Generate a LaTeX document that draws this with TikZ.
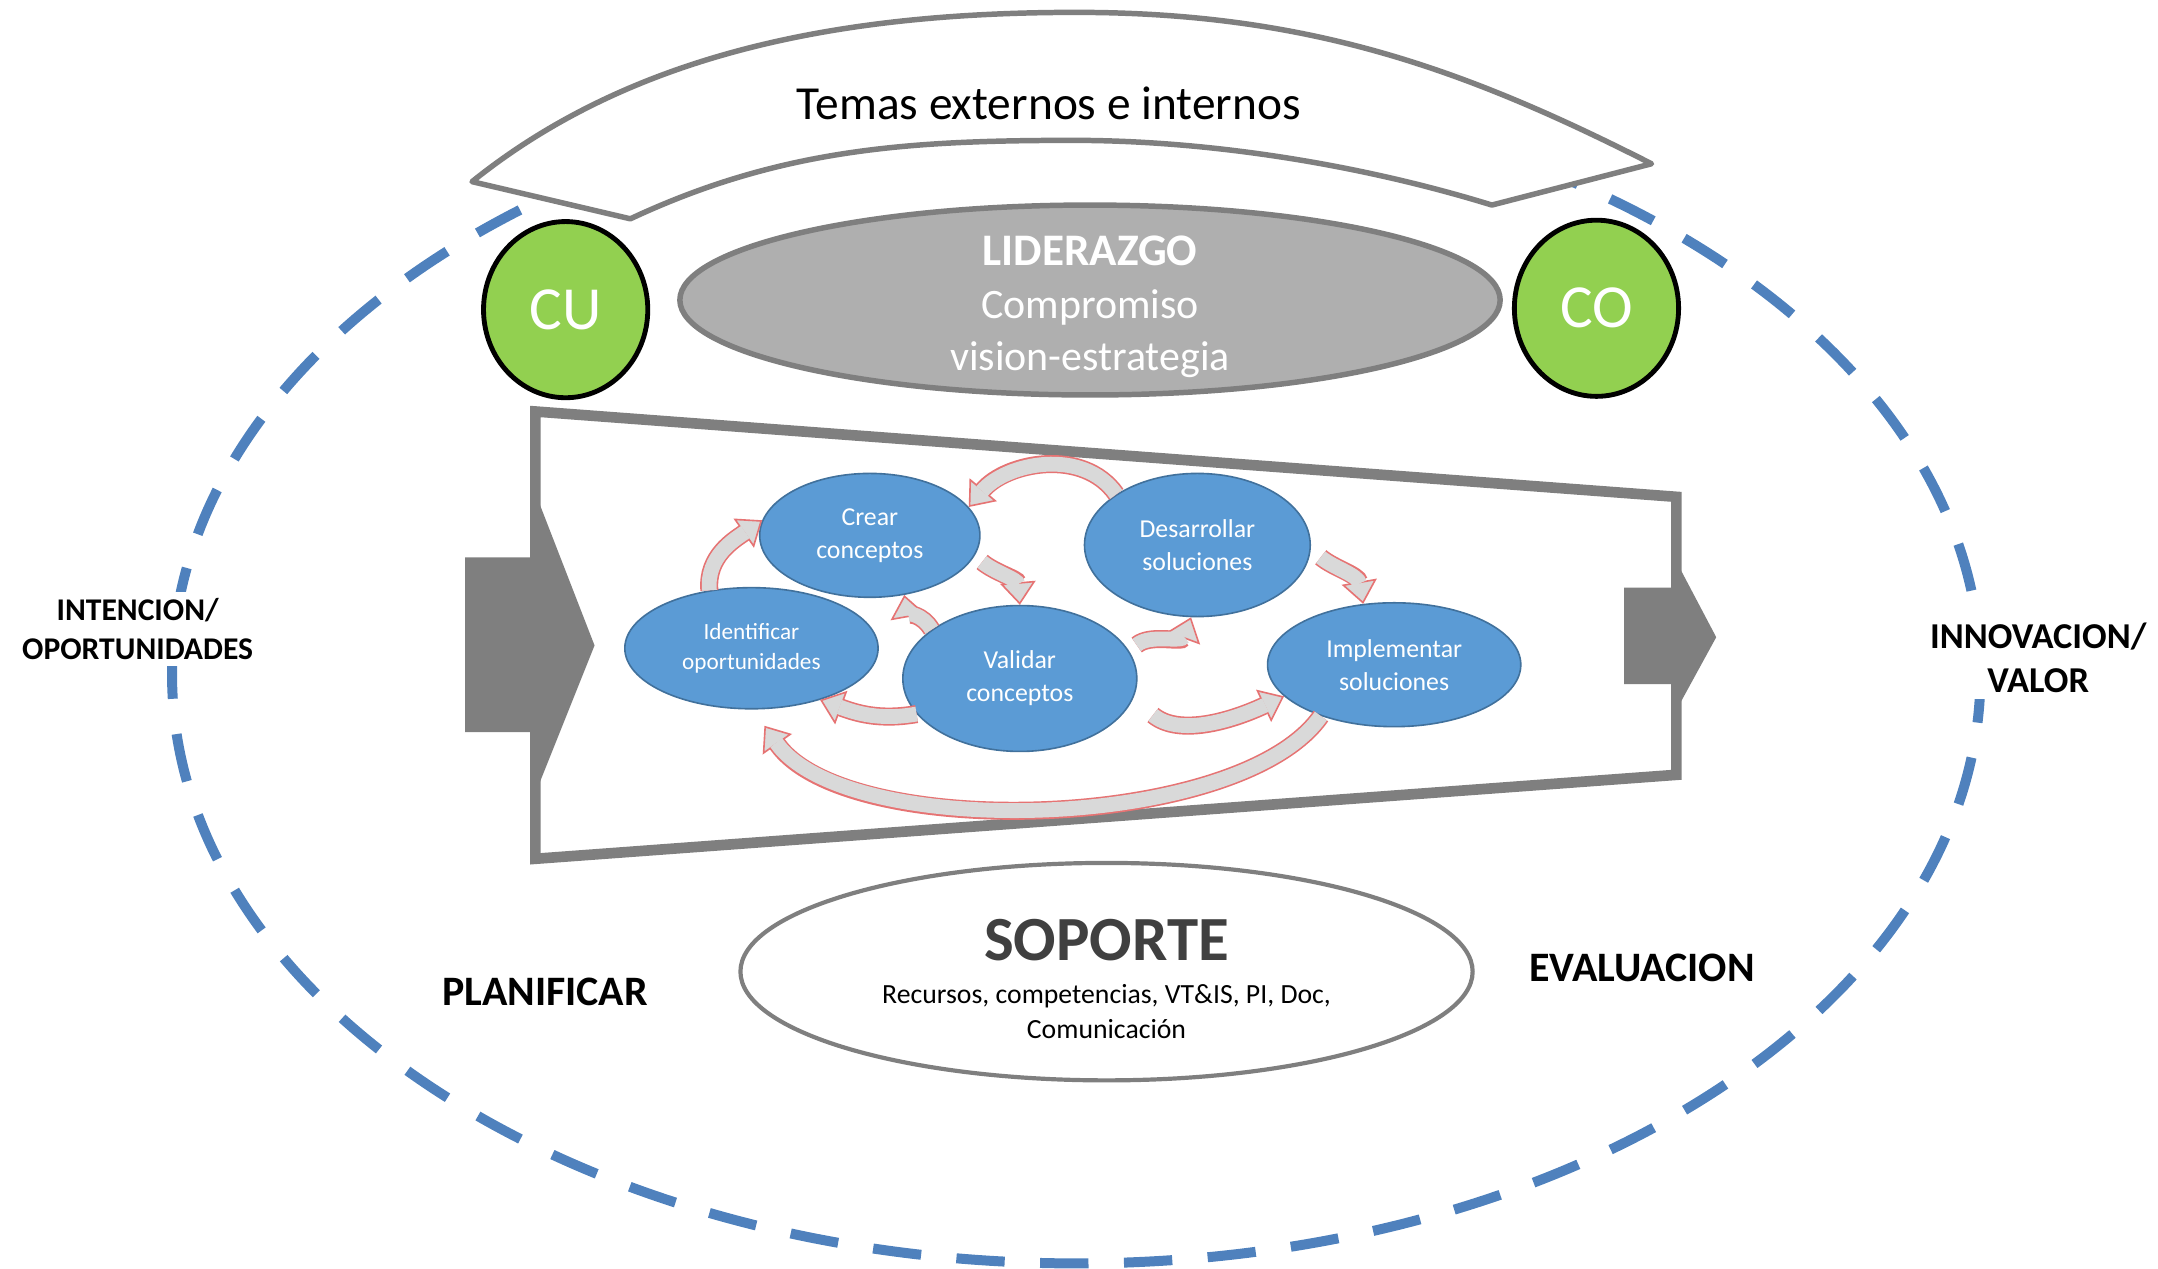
\documentclass[tikz,border=0pt]{standalone}
\usepackage{fontspec}
\setmainfont{Carlito}
\usetikzlibrary{shapes.geometric, arrows.meta, positioning, calc}
\definecolor{ringblue}{RGB}{79, 129, 189}
\definecolor{framegray}{RGB}{127, 127, 127}
\definecolor{leadgray}{RGB}{175, 175, 175}
\definecolor{cornergreen}{RGB}{146, 208, 80}
\definecolor{stageblue}{RGB}{91, 155, 213}
\definecolor{stageedge}{RGB}{65, 113, 156}
\definecolor{loopfill}{RGB}{217, 217, 217}
\definecolor{loopline}{RGB}{230, 115, 115}
\definecolor{soportetext}{RGB}{64, 64, 64}

% block arrow: outline first, then the light body on top
\newcommand{\cyclearrow}[2][]{%
    \draw[loopback, #1] #2;
    \draw[loopfront, #1] #2;
}

\begin{document}
\begin{tikzpicture}[
    x=0.015cm, y=-0.015cm,
    ring/.style={draw=ringblue, line width=3.1pt, dash pattern=on 15pt off 11pt},
    banner/.style={draw=framegray, line width=1.7pt, fill=white, line join=round},
    leader/.style={ellipse, draw=framegray, line width=1.7pt, fill=leadgray, minimum width=8.94cm, minimum height=2.07cm, inner sep=0pt},
    corner/.style={ellipse, draw=black, line width=1.5pt, fill=cornergreen, text=white, font=\fontsize{19}{22}\selectfont, minimum width=1.79cm, minimum height=1.92cm, inner sep=0pt},
    funnel/.style={draw=framegray, line width=3.3pt, fill=white, line join=miter},
    pointer/.style={fill=framegray},
    stage/.style={ellipse, draw=stageedge, line width=0.5pt, fill=stageblue, text=white, align=center, inner sep=0pt, font=\fontsize{8}{10.2}\selectfont},
    loopback/.style={draw=loopline, line width=5.6pt, -{Triangle[length=7pt, width=11pt, fill=loopfill, color=loopline, line width=0.5pt]}},
    loopfront/.style={draw=loopfill, line width=4.6pt, shorten >=6.4pt},
    support/.style={ellipse, draw=framegray, line width=1.3pt, fill=white, minimum width=7.98cm, minimum height=2.37cm, inner sep=0pt},
    phase/.style={font=\bfseries\fontsize{13}{15.6}\selectfont, align=center}
]
    \useasboundingbox (0,0) rectangle (1568,922);

    % Outer ring
    \draw[ring] (782,490) ellipse [x radius=657, y radius=428];

    % Banner
    \draw[banner] (343,132) .. controls (460,38) and (612,9) .. (782,9)
        .. controls (952,9) and (1066,51) .. (1200,119)
        -- (1084,149) .. controls (990,120) and (880,102) .. (780,102)
        .. controls (660,102) and (567,108) .. (458,159) -- cycle;
    \node[font=\fontsize{14.7}{17}\selectfont] (temas) at (762,75) {Temas externos e internos};

    % CU / CO
    \node[corner] (cu) at (411,225) {CU};
    \node[corner] (co) at (1160,224) {CO};

    % Leadership
    \node[leader] (lead) at (792,218) {};
    \node[text=white, align=center, font=\fontsize{13}{16.3}\selectfont] (leadtxt) at (792,223)
        {{\bfseries\fontsize{14}{16.3}\selectfont LIDERAZGO}\\Compromiso\\vision-estrategia};

    % Funnel
    \draw[funnel] (389,299) -- (1218,361) -- (1218,563) -- (389,624) -- cycle;
    \fill[pointer] (338,405) -- (392,405) -- (392,366) -- (432,469) -- (392,569) -- (392,532) -- (338,532) -- cycle;
    \fill[pointer] (1180,427) -- (1218,427) -- (1218,408) -- (1247,463) -- (1218,516) -- (1218,497) -- (1180,497) -- cycle;

    % Stages
    \node[stage, minimum width=2.4cm, minimum height=1.35cm] (crear) at (632,389) {Crear\\conceptos};
    \node[stage, minimum width=2.46cm, minimum height=1.56cm] (desar) at (870,396) {Desarrollar\\soluciones};
    \node[stage, minimum width=2.76cm, minimum height=1.32cm, font=\fontsize{7.2}{9.4}\selectfont] (ident) at (546,471) {Identificar\\oportunidades};
    \node[stage, minimum width=2.55cm, minimum height=1.59cm] (valid) at (741,493) {Validar\\conceptos};
    \node[stage, minimum width=2.76cm, minimum height=1.35cm] (impl) at (1013,483) {Implementar\\soluciones};

    % Cycle arrows
    \cyclearrow{(ident.126) to[out=95, in=215] (crear.172)}
    \cyclearrow[shorten <=3pt]{(crear.-11) to[out=-40, in=95] (valid.90)}
    \cyclearrow{(valid.151) to[out=120, in=-80] (crear.-60)}
    \cyclearrow{(desar.148) to[out=125, in=50] (crear.16)}
    \cyclearrow[shorten <=3pt]{(valid.14) to[out=40, in=-110] (desar.-95)}
    \cyclearrow[shorten <=4pt]{(desar.-2) to[out=-40, in=100] (impl.117)}
    \cyclearrow{(valid.199) to[out=190, in=-20] (ident.-37)}
    \cyclearrow[shorten <=8pt]{(valid.-10) to[out=-40, in=205] (impl.196)}
    \cyclearrow{(impl.-145) to[out=-125, in=-55, looseness=0.65] ($(ident.-78)+(0,12)$)}

    % Support
    \node[support] (sop) at (804,706) {};
    \node[font=\bfseries\fontsize{19.5}{23}\selectfont, text=soportetext] (soptitle) at (804,683) {SOPORTE};
    \node[font=\fontsize{8.6}{10.7}\selectfont, align=center] (soptxt) at (804,735) {Recursos, competencias, VT\&IS, PI, Doc,\\Comunicación};

    % Phases
    \node[phase] (plan) at (396,721) {PLANIFICAR};
    \node[phase] (eval) at (1193,703) {EVALUACION};
    \node[phase, fill=white, inner sep=2pt, font=\bfseries\fontsize{9.8}{12}\selectfont] (intent) at (100,457) {INTENCION/\\OPORTUNIDADES};
    \node[phase, fill=white, inner sep=2pt, font=\bfseries\fontsize{11.3}{13.7}\selectfont] (innov) at (1481,478) {INNOVACION/\\VALOR};

\end{tikzpicture}
\end{document}
